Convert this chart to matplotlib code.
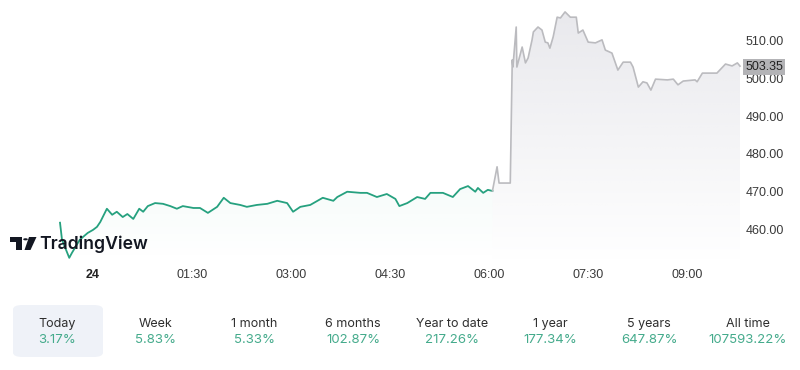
import matplotlib
matplotlib.use("Agg")
import matplotlib.pyplot as plt
import numpy as np
from matplotlib.patches import Polygon, FancyBboxPatch, Circle

W, H = 800, 370
GREEN = "#26a17f"
GREY = "#bbbbbf"

# --- data: hours since midnight, price ---
green_t = [-0.50, -0.47, -0.36, -0.32, -0.20, -0.08, 0.00, 0.06, 0.11, 0.21, 0.29, 0.36,
           0.45, 0.52, 0.61, 0.70, 0.76, 0.83, 0.94, 1.06, 1.17, 1.27, 1.36, 1.52, 1.62,
           1.74, 1.88, 1.98, 2.08, 2.23, 2.33, 2.48, 2.64, 2.79, 2.94, 3.03, 3.14, 3.29,
           3.48, 3.64, 3.70, 3.85, 4.05, 4.15, 4.30, 4.45, 4.58, 4.64, 4.76, 4.91, 5.03,
           5.11, 5.30, 5.45, 5.56, 5.68, 5.79, 5.83, 5.91, 5.98, 6.05]
green_v = [461.9, 457.4, 452.6, 453.9, 457.4, 459.2, 460.0, 460.8, 462.1, 465.6, 464.0, 464.8,
           463.4, 464.2, 462.9, 465.6, 464.8, 466.3, 467.1, 466.9, 466.3, 465.6, 466.3, 465.8, 465.8,
           464.5, 466.1, 468.5, 467.1, 466.6, 466.1, 466.6, 466.9, 467.7, 467.1, 464.8, 466.1, 466.6,
           468.5, 467.7, 468.7, 470.1, 469.8, 469.8, 468.7, 469.5, 468.2, 466.3, 467.1, 468.7, 468.2,
           469.8, 469.8, 468.7, 470.8, 471.6, 470.1, 471.1, 469.8, 470.6, 470.3]
grey_t = [6.05, 6.12, 6.15, 6.32, 6.35, 6.36, 6.41, 6.42, 6.50, 6.55, 6.59, 6.65, 6.67, 6.74,
          6.80, 6.85, 6.89, 6.92, 6.97, 7.03, 7.08, 7.15, 7.23, 7.32, 7.35, 7.42, 7.50, 7.61,
          7.71, 7.76, 7.86, 7.95, 8.03, 8.14, 8.18, 8.26, 8.33, 8.39, 8.45, 8.52, 8.70, 8.79,
          8.86, 8.94, 9.12, 9.15, 9.23, 9.45, 9.58, 9.68, 9.76, 9.80]
grey_v = [470.3, 476.7, 472.4, 472.4, 505.0, 503.1, 513.7, 503.1, 508.4, 504.2, 505.5, 510.3, 512.4, 513.7,
          512.9, 509.7, 509.5, 508.1, 511.1, 516.3, 516.1, 517.7, 516.3, 516.3, 512.1, 512.9, 509.7, 509.5,
          510.3, 507.6, 506.8, 502.3, 504.4, 504.4, 503.1, 497.8, 499.2, 498.9, 497.0, 499.9, 499.7, 499.9,
          498.4, 499.4, 499.7, 499.2, 501.5, 501.5, 503.9, 503.4, 504.2, 503.35]
last_price = 503.35

y_ticks = [460, 470, 480, 490, 500, 510]
x_ticks = [0, 1.5, 3, 4.5, 6, 7.5, 9]
x_labels = ["24", "01:30", "03:00", "04:30", "06:00", "07:30", "09:00"]

periods = ["Today", "Week", "1 month", "6 months", "Year to date", "1 year", "5 years", "All time"]
changes = ["3.17%", "5.83%", "5.33%", "102.87%", "217.26%", "177.34%", "647.87%", "107593.22%"]

fig = plt.figure(figsize=(W / 100, H / 100), dpi=100)
fig.patch.set_facecolor("white")

def fx(px):
    return px / W

def fy(py):
    return 1 - py / H

ax = fig.add_axes([0, fy(262), fx(742), 1 - fy(262)])
ax.set_xlim(-1.409, 9.83)
ax.set_ylim(451.5, 520.85)
ax.set_axis_off()

def gradient_fill(t, v, rgb, a_top, a_bot):
    ymin, ymax = ax.get_ylim()
    grad = np.linspace(a_bot, a_top, 256).reshape(-1, 1)
    img = np.zeros((256, 1, 4))
    img[..., :3] = matplotlib.colors.to_rgb(rgb)
    img[..., 3] = grad
    im = ax.imshow(img, aspect="auto", origin="lower",
                   extent=[t[0], t[-1], ymin, ymax], zorder=1)
    poly = Polygon(list(zip(t, v)) + [(t[-1], ymin), (t[0], ymin)],
                   closed=True, facecolor="none", edgecolor="none")
    ax.add_patch(poly)
    im.set_clip_path(poly)

gradient_fill(green_t, green_v, "#2bb08a", 0.15, 0.0)
gradient_fill(grey_t, grey_v, "#c8c8d2", 0.42, 0.0)
ax.plot(green_t, green_v, color=GREEN, lw=1.3, zorder=3, solid_joinstyle="round")
ax.plot(grey_t, grey_v, color=GREY, lw=1.2, zorder=3, solid_joinstyle="round")
ax.set_xlim(-1.409, 9.83)
ax.set_ylim(451.5, 520.85)

# y labels on the right
for yt in y_ticks:
    ypx = 42 + (510 - yt) * 3.78
    fig.text(fx(765), fy(ypx), f"{yt:.2f}", ha="center", va="center",
             fontsize=9, color="#3a3a3a", family="Liberation Sans")
ypx = 42 + (510 - last_price) * 3.78
fig.text(fx(764), fy(ypx), f"{last_price:.2f}", ha="center", va="center",
         fontsize=9, color="#222222", family="Liberation Sans",
         bbox=dict(boxstyle="square,pad=0.18", facecolor="#b3b3b6", edgecolor="none"))

# x labels
for xt, lab in zip(x_ticks, x_labels):
    fig.text(fx(93 + 66 * xt), fy(275), lab, ha="center", va="center", fontsize=9,
             color="#222222" if lab == "24" else "#3a3a3a",
             weight="bold" if lab == "24" else "normal", family="Liberation Sans")

# TradingView watermark
logo = [
    Polygon([(fx(10), fy(237)), (fx(22), fy(237)), (fx(22), fy(250)), (fx(16), fy(250)),
             (fx(16), fy(241.5)), (fx(10), fy(241.5))], closed=True),
    Circle((fx(25.5), fy(239.3)), 2.3 / W),
    Polygon([(fx(29), fy(237)), (fx(36.5), fy(237)), (fx(30.5), fy(250)), (fx(24.5), fy(250))], closed=True),
]
for p in logo:
    p.set_transform(fig.transFigure)
    p.set_facecolor("#131722")
    p.set_edgecolor("none")
    fig.patches.append(p)
fig.text(fx(39), fy(244), "TradingView", ha="left", va="center", fontsize=12.7,
         weight="semibold", color="#131722", family="Inter")

# bottom performance strip
box = FancyBboxPatch((fx(13), fy(357)), fx(90), fy(305) - fy(357),
                     boxstyle="round,pad=0,rounding_size=0.012", transform=fig.transFigure,
                     facecolor="#eff2f8", edgecolor="none")
fig.patches.append(box)
for i, (p, c) in enumerate(zip(periods, changes)):
    cx = 57 + i * 98.7
    fig.text(fx(cx), fy(324), p, ha="center", va="center", fontsize=9,
             color="#2e2e2e", family="Inter")
    fig.text(fx(cx), fy(340), c, ha="center", va="center", fontsize=9.5,
             color="#45ab8c", family="Inter")

fig.savefig("out.png", dpi=100, facecolor="white")
